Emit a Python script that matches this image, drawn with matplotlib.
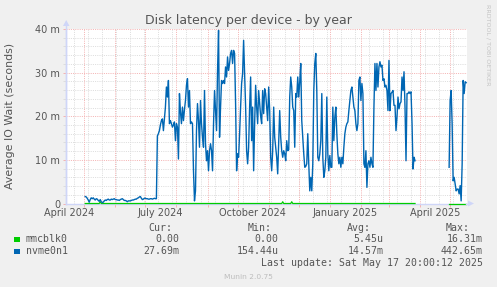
import pandas as pd
import matplotlib
matplotlib.use('Agg')
import matplotlib.pyplot as plt
from matplotlib.lines import Line2D
from matplotlib.patches import Polygon, Rectangle

W, H = 497, 287

graph_end = pd.Timestamp('2025-05-17 20:00')
graph_start = graph_end - pd.Timedelta(days=400)

# nvme0n1 daily io wait in ms (first stretch, gap, then last stretch)
nvme_start_a = '2024-05-02'
nvme_a = [
    1.6, 1.5, 1.2, 0.8, 0.3, 0.9, 1.3, 1.1, 1.3, 1.0,
    0.8, 1.1, 1.0, 0.7, 0.5, 0.9, 0.4, 0.2, 0.3, 0.6,
    0.8, 0.7, 0.9, 1.0, 0.8, 0.8, 1.0, 0.9, 1.0, 1.1,
    0.9, 0.9, 0.8, 0.8, 0.7, 0.9, 1.0, 1.1, 0.9, 0.7,
    0.7, 0.6, 0.4, 0.6, 0.6, 0.6, 0.7, 0.8, 0.8, 0.9,
    1.0, 1.0, 1.2, 1.3, 1.5, 1.6, 1.2, 0.9, 1.0, 1.2,
    1.2, 1.1, 1.1, 1.0, 1.0, 1.1, 1.1, 1.0, 1.1, 1.2,
    1.1, 1.1, 15.5, 16.0, 16.7, 18.0, 19.0, 19.4, 16.7, 19.5,
    22.1, 26.7, 24.4, 28.2, 18.3, 19.0, 18.3, 17.5, 18.0, 18.7,
    14.4, 18.3, 17.5, 10.2, 25.2, 21.0, 18.3, 22.1, 19.0, 21.5,
    23.6, 27.1, 28.6, 22.1, 25.9, 18.3, 18.7, 18.3, 7.5, 0.6,
    2.9, 16.7, 22.9, 19.0, 12.9, 23.6, 18.3, 15.2, 12.9, 25.9,
    13.7, 9.8, 12.1, 7.5, 12.1, 13.7, 12.1, 7.5, 18.3, 25.9,
    21.3, 16.7, 30.5, 39.7, 15.2, 22.1, 28.2, 27.5, 28.2, 27.5,
    31.3, 29.0, 33.6, 30.5, 32.1, 34.4, 35.1, 32.1, 35.1, 34.4,
    22.9, 7.5, 11.4, 10.6, 16.0, 22.1, 27.5, 29.8, 37.4, 29.8,
    22.1, 12.1, 9.1, 12.9, 22.1, 29.0, 14.4, 22.1, 7.5, 18.3,
    27.1, 22.1, 18.3, 25.9, 22.9, 20.0, 18.3, 25.9, 20.6, 26.3,
    25.2, 22.1, 19.0, 26.7, 21.3, 10.6, 7.5, 12.1, 22.1, 15.2,
    12.9, 10.6, 6.8, 14.4, 21.3, 15.2, 12.1, 10.6, 12.1, 11.4,
    9.8, 14.4, 12.1, 12.3, 24.4, 29.0, 26.7, 22.1, 21.3, 12.9,
    25.2, 24.4, 29.0, 24.4, 28.0, 32.1, 19.0, 15.2, 11.4, 8.3,
    8.5, 9.1, 16.0, 9.0, 2.9, 6.0, 2.9, 9.1, 25.9, 32.1,
    34.4, 25.9, 10.6, 9.8, 11.4, 14.4, 25.2, 10.6, 6.0, 7.5,
    10.6, 24.4, 11.4, 7.5, 11.0, 8.3, 8.3, 22.1, 14.4, 19.8,
    22.1, 16.0, 11.4, 9.1, 10.6, 8.3, 10.6, 9.1, 12.9, 16.0,
    17.5, 18.3, 18.7, 21.3, 23.6, 25.9, 26.7, 24.4, 22.1, 21.3,
    18.3, 16.7, 18.3, 28.2, 29.0, 23.6, 27.5, 25.2, 9.1, 8.3,
    12.1, 3.7, 9.1, 9.8, 8.3, 10.6, 9.1, 8.3, 22.1, 32.1,
    25.9, 32.1, 26.7, 31.3, 32.5, 31.3, 31.7, 28.2, 28.6, 26.7,
    27.1, 25.9, 21.3, 32.8, 21.3, 25.2, 25.5, 25.9, 22.5, 22.5,
    16.7, 19.8, 24.4, 21.7, 22.9, 23.3, 29.0, 25.9, 30.2, 22.1,
    9.8, 25.2, 25.2, 25.6, 25.2, 25.6, 18.3, 7.9, 10.6, 9.8,
]
nvme_start_b = '2025-04-30'
nvme_b = [8.3, 23.6, 25.9, 18.3, 5.2, 6.0, 4.5, 2.9, 3.3, 3.3,
          2.2, 4.1, 0.6, 9.1, 28.2, 25.2, 27.9, 27.7]

# mmcblk0 is flat at zero apart from a few tiny blips
mmc_spike_dates = ['2024-05-17', '2024-11-15', '2024-11-24']
mmc_spike_vals = [0.4, 0.4, 0.4]

label_months = ['2024-04-01', '2024-07-01', '2024-10-01', '2025-01-01', '2025-04-01']
label_texts = ['April 2024', 'July 2024', 'October 2024', 'January 2025', 'April 2025']
y_ticks = [0, 10, 20, 30, 40]
y_labels = ['0', '10 m', '20 m', '30 m', '40 m']

legend_names = ['mmcblk0', 'nvme0n1']
legend_colors = ['#00CC00', '#0066B3']
cur_vals = ['0.00', '27.69m']
min_vals = ['0.00', '154.44u']
avg_vals = ['5.45u', '14.57m']
max_vals = ['16.31m', '442.65m']

font_col = '#555555'
axis_col = '#CFD6F8'
mgrid_col = '#F4B4B4'
grid_col = '#DDDDDD'
dots = (0, (1, 1.2))


def fx(px):
    return px / W


def fy(py):
    return 1 - py / H


fig = plt.figure(figsize=(W / 100, H / 100), dpi=100, facecolor='#F0F0F0')
ax = fig.add_axes([fx(66), fy(203.5), 401 / W, 174.5 / H])
ax.set_facecolor('white')
for s in ax.spines.values():
    s.set_visible(False)
ax.set_xlim(graph_start, graph_end)
ax.set_ylim(0, 40)

# grid
gkw = dict(lw=0.72, ls=dots)
for d in pd.date_range('2024-04-21', graph_end, freq='14D'):
    ax.axvline(d, color=grid_col, zorder=1, **gkw)
for v in range(2, 40, 2):
    if v % 10:
        ax.axhline(v, color=grid_col, zorder=1, **gkw)
month_starts = pd.date_range('2024-05-01', graph_end, freq='MS')
for d in month_starts:
    ax.axvline(d, color=mgrid_col, zorder=1.5, **gkw)
for v in y_ticks[1:]:
    ax.axhline(v, color=mgrid_col, zorder=1.5, **gkw)

# axes lines with arrows
ax.axhline(0, color=axis_col, lw=1.0, zorder=2, clip_on=False)
ax.axvline(graph_start, color=axis_col, lw=1.0, zorder=2, clip_on=False)
fig.add_artist(Line2D([fx(66), fx(66)], [fy(203.5), fy(25)], color=axis_col, lw=1.0))
fig.add_artist(Line2D([fx(466), fx(469)], [fy(203.5), fy(203.5)], color=axis_col, lw=1.0))
fig.add_artist(Polygon([[fx(63), fy(26)], [fx(69.5), fy(26)], [fx(66.2), fy(20)]], closed=True,
                       color=axis_col, lw=0))
fig.add_artist(Polygon([[fx(468), fy(200.5)], [fx(468), fy(206.5)], [fx(474), fy(203.5)]], closed=True,
                       color=axis_col, lw=0))

# ticks
ax.set_xticks([pd.Timestamp(m) + pd.Timedelta(days=15) for m in label_months])
ax.set_xticklabels(label_texts)
ax.set_xticks(month_starts, minor=True)
ax.tick_params(axis='x', which='major', length=0, pad=3.6, labelsize=7, labelcolor=font_col)
ax.tick_params(axis='x', which='minor', length=2.2, width=0.72, color=mgrid_col)
ax.set_yticks(y_ticks)
ax.set_yticklabels(y_labels)
ax.set_yticks(range(2, 40, 2), minor=True)
ax.tick_params(axis='y', which='major', length=2.2, width=0.72, color=mgrid_col, pad=2,
               labelsize=7, labelcolor=font_col)
ax.tick_params(axis='y', which='minor', length=2.2, width=0.72, color=grid_col)

# data
for start, vals in [(nvme_start_a, nvme_a), (nvme_start_b, nvme_b)]:
    idx = pd.date_range(start, periods=len(vals), freq='D')
    mmc = pd.Series(0.0, index=idx)
    for d, v in zip(mmc_spike_dates, mmc_spike_vals):
        if pd.Timestamp(d) in mmc.index:
            mmc[pd.Timestamp(d)] = v
    ax.plot(mmc.index, mmc.values, color=legend_colors[0], lw=0.9, zorder=3, clip_on=False)
    ax.plot(idx, vals, color=legend_colors[1], lw=1.0, zorder=4, clip_on=False)

# titles
fig.text(fx(248), fy(24), 'Disk latency per device - by year', ha='center', va='baseline',
         fontsize=9, color=font_col)
fig.text(fx(10), fy(116), 'Average IO Wait (seconds)', rotation=90, ha='center', va='center',
         fontsize=7.9, color=font_col)
fig.text(fx(488), fy(4), 'RRDTOOL / TOBI OETIKER', rotation=270, ha='center', va='top',
         fontsize=4.6, color='#C4C4C4')

# legend
mono = 'DejaVu Sans Mono'
for txt, xr in zip(['Cur:', 'Min:', 'Avg:', 'Max:'], [172.7, 271.7, 370.7, 470]):
    fig.text(fx(xr), fy(230.7), txt, ha='right', va='baseline', family=mono, fontsize=7.1,
             color=font_col)
rows_y = [242.3, 254.3]
for i, name in enumerate(legend_names):
    yb = rows_y[i]
    fig.add_artist(Rectangle((fx(14), fy(yb)), 5.5 / W, 5.5 / H, color=legend_colors[i], lw=0))
    fig.text(fx(26), fy(yb), name, ha='left', va='baseline', family=mono, fontsize=7.1,
             color=font_col)
    for val, xr in zip([cur_vals[i], min_vals[i], avg_vals[i], max_vals[i]],
                       [179, 278.3, 383.3, 482.7]):
        fig.text(fx(xr), fy(yb), val, ha='right', va='baseline', family=mono, fontsize=7.1,
                 color=font_col)
fig.text(fx(482.7), fy(266), 'Last update: Sat May 17 20:00:12 2025', ha='right', va='baseline',
         family=mono, fontsize=7.1, color=font_col)
fig.text(fx(248), fy(278.7), 'Munin 2.0.75', ha='center', va='baseline', fontsize=5.4,
         color='#BDBDBD')

fig.savefig('out.png', dpi=100, facecolor=fig.get_facecolor())
